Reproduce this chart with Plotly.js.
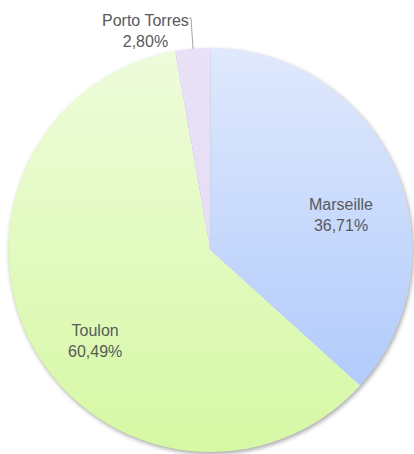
<!DOCTYPE html>
<html>
<head>
<meta charset="utf-8">
<script src="https://cdn.plot.ly/plotly-3.0.1.min.js"></script>
<style>
html,body{margin:0;padding:0;background:#fff;}
#chart{width:414px;height:454px;}
.pielayer .trace{filter:drop-shadow(1px 2px 2px rgba(0,0,0,0.35));}
</style>
</head>
<body>
<div id="chart"></div>
<script>
const labels = ["Marseille", "Toulon", "Porto Torres"];
const values = [36.71, 60.49, 2.80];
const colorsTop = ["#e0e9fd", "#eefcdb", "#e8e1f7"];
const colorsBottom = ["#a8c5fb", "#d6f8a4", "#e4dcf5"];

function fmt(v){ return v.toFixed(2).replace('.', ',') + '%'; }

const W = 414, H = 454;
const cx = 210.5, cy = 250, R = 202;

const trace = {
  type: 'pie',
  labels: labels,
  values: values,
  sort: false,
  direction: 'clockwise',
  rotation: 0,
  textinfo: 'none',
  hoverinfo: 'label+percent',
  marker: {colors: colorsBottom, line: {width: 0}},
  domain: {x: [(cx - R) / W, (cx + R) / W], y: [1 - (cy + R) / H, 1 - (cy - R) / H]},
  showlegend: false
};

const labelPos = [[341, 215], [95, 341], [145, 31]];
const font = {family: 'Liberation Sans, Arial, sans-serif', size: 16, color: '#595959'};
const annotations = labels.map((l, i) => ({
  xref: 'paper', yref: 'paper',
  x: labelPos[i][0] / W, y: 1 - labelPos[i][1] / H,
  xanchor: 'center', yanchor: 'middle',
  text: l + '<br>' + fmt(values[i]),
  showarrow: false, font: font, align: 'center'
}));

const layout = {
  width: W, height: H,
  margin: {l: 0, r: 0, t: 0, b: 0},
  paper_bgcolor: '#ffffff',
  plot_bgcolor: '#ffffff',
  annotations: annotations,
  shapes: [
    {type: 'line', xref: 'paper', yref: 'paper',
     x0: 189 / W, y0: 1 - 18 / H, x1: 191 / W, y1: 1 - 18 / H,
     line: {color: '#a6a6a6', width: 1}},
    {type: 'line', xref: 'paper', yref: 'paper',
     x0: 191 / W, y0: 1 - 18 / H, x1: 193 / W, y1: 1 - 49 / H,
     line: {color: '#a6a6a6', width: 1}}
  ]
};

Plotly.newPlot('chart', [trace], layout, {staticPlot: true}).then(gd => {
  const svg = gd.querySelector('svg.main-svg');
  const ns = 'http://www.w3.org/2000/svg';
  let defs = svg.querySelector('defs');
  if (!defs) { defs = document.createElementNS(ns, 'defs'); svg.insertBefore(defs, svg.firstChild); }
  const paths = gd.querySelectorAll('.pielayer .slice path.surface');
  paths.forEach((p, i) => {
    // gradient spans the whole pie, in the path's own coordinate system
    const bb = p.getBBox();
    const g = document.createElementNS(ns, 'linearGradient');
    g.setAttribute('id', 'grad' + i);
    g.setAttribute('gradientUnits', 'userSpaceOnUse');
    // find pie extent: top of pie is min bbox y over all slices, bottom is max
    let top = Infinity, bot = -Infinity;
    paths.forEach(q => { const b = q.getBBox(); top = Math.min(top, b.y); bot = Math.max(bot, b.y + b.height); });
    g.setAttribute('x1', 0); g.setAttribute('y1', top);
    g.setAttribute('x2', 0); g.setAttribute('y2', bot);
    const s1 = document.createElementNS(ns, 'stop');
    s1.setAttribute('offset', '0'); s1.setAttribute('stop-color', colorsTop[i]);
    const s2 = document.createElementNS(ns, 'stop');
    s2.setAttribute('offset', '1'); s2.setAttribute('stop-color', colorsBottom[i]);
    g.appendChild(s1); g.appendChild(s2);
    defs.appendChild(g);
    p.style.fill = 'url(#grad' + i + ')';
  });
});
</script>
</body>
</html>
